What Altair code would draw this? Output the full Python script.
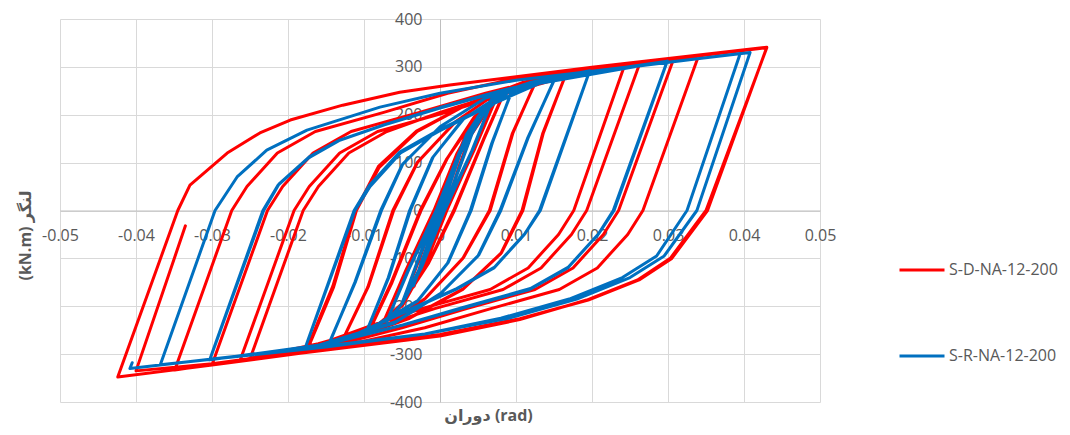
import altair as alt
import pandas as pd

# ---- data (rotation in rad, moment in kN.m) ----
D_rot = [
    0.0, 0.0015, 0.0035, 0.0012, -0.0005, -0.0035, -0.0012, 0.0005, 0.0035,
    0.0013, -0.0004, -0.0034, -0.0011, 0.0006, 0.0036,
    0.005, 0.0025, 0.0006, -0.0025, -0.005, -0.0025, -0.0006, 0.0025, 0.005,
    0.0025, 0.0007, -0.0024, -0.005, -0.0024, -0.0005, 0.0026, 0.0076,
    0.0046, 0.0008, -0.002, -0.0048, -0.0075, -0.0045, -0.0008, 0.0022, 0.005, 0.0076,
    0.0046, 0.0009, -0.0019, -0.0047, -0.0075, -0.0044, -0.0007, 0.0023, 0.0052, 0.0086,
    0.0058, 0.0019, -0.0015, -0.005, -0.0095, -0.0063, -0.0025, 0.001, 0.0045, 0.0086,
    0.0058, 0.0018, -0.0016, -0.0051, -0.0096, -0.0064, -0.0026, 0.0009, 0.0046, 0.0085, 0.0128,
    0.0095, 0.0065, 0.003, -0.002, -0.007, -0.0128, -0.0095, -0.0062, -0.003, 0.002, 0.007, 0.0128,
    0.0096, 0.0066, 0.0031, -0.0019, -0.0069, -0.0128, -0.0094, -0.0061, -0.0029, 0.0021, 0.0071, 0.0125, 0.0167,
    0.0135, 0.0108, 0.008, 0.003, -0.004, -0.011, -0.0175, -0.014, -0.011, -0.008, -0.003, 0.004, 0.011, 0.0167,
    0.0136, 0.0109, 0.0081, 0.0031, -0.0039, -0.0109, -0.0176, -0.0141, -0.0111, -0.0081, -0.0031, 0.0041, 0.0111, 0.0175, 0.0243,
    0.0176, 0.0156, 0.0116, 0.0066, -0.0024, -0.009, -0.016, -0.025,
    -0.018, -0.016, -0.012, -0.007, 0.0, 0.008, 0.017, 0.0263,
    0.0193, 0.0173, 0.0133, 0.0083, -0.0007, -0.008, -0.016, -0.0263,
    -0.0192, -0.0172, -0.0132, -0.0082, 0.0008, 0.009, 0.018, 0.0307,
    0.0235, 0.0215, 0.0175, 0.0125, 0.0035, -0.005, -0.015, -0.030,
    -0.0227, -0.0207, -0.0167, -0.0117, -0.0027, 0.006, 0.016, 0.034,
    0.0267, 0.0247, 0.0207, 0.0157, 0.0067, -0.002, -0.012, -0.0349,
    -0.0274, -0.0254, -0.0214, -0.0164, -0.0074, 0.001, 0.01, 0.043,
    0.035, 0.0303, 0.026, 0.0193, 0.0105, 0.0, -0.0184, -0.03, -0.0424,
    -0.0345, -0.0329, -0.028, -0.0237, -0.0197, -0.0128, -0.0053, 0.0013, 0.02, 0.043,
    0.0352, 0.0305, 0.0262, 0.0195, 0.0105, 0.0, -0.0184, -0.03, -0.040, -0.0335,
]
D_mom = [
    0, 85, 162, 55, -30, -160, -55, 30, 162,
    56, -28, -158, -53, 32, 164,
    200, 90, 0, -120, -200, -90, 0, 120, 202,
    92, 0, -118, -198, -88, 0, 122, 242,
    130, 0, -115, -195, -236, -125, 0, 118, 198, 243,
    132, 0, -112, -192, -235, -122, 0, 120, 200, 252,
    150, 0, -110, -195, -258, -150, 0, 110, 195, 253,
    152, 0, -112, -196, -258, -150, 0, 108, 193, 245, 276,
    160, 0, -100, -185, -240, -270, -160, 0, 100, 185, 240, 277,
    162, 0, -98, -183, -238, -270, -158, 0, 102, 186, 241, 273, 290,
    160, 0, -90, -165, -225, -265, -292, -160, 0, 90, 165, 225, 268, 291,
    162, 0, -88, -163, -223, -264, -292, -158, 0, 92, 166, 226, 268, 292, 304,
    0, -50, -120, -165, -205, -240, -280, -310,
    0, 50, 120, 165, 205, 245, 282, 308,
    0, -50, -120, -165, -205, -242, -278, -313,
    0, 50, 120, 165, 205, 246, 286, 315,
    0, -50, -120, -165, -205, -245, -286, -322,
    0, 50, 120, 165, 205, 245, 285, 322,
    0, -50, -120, -165, -205, -245, -280, -333,
    0, 50, 120, 165, 205, 245, 276, 340,
    0, -100, -145, -187, -228, -262, -298, -323, -348,
    0, 53, 120, 162, 189, 220, 247, 262, 299, 341,
    0, -100, -145, -187, -226, -259, -295, -320, -335, -32,
]

R_rot = [
    0.0, 0.0015, 0.0035, 0.0013, -0.0004, -0.0035, -0.0013, 0.0004, 0.0035,
    0.0013, -0.0004, -0.0035, -0.0012, 0.0004, 0.0035, 0.005,
    0.0026, 0.0004, -0.0025, -0.005, -0.0026, -0.0004, 0.0025, 0.005,
    0.0026, 0.0005, -0.0024, -0.005, -0.0025, -0.0003, 0.0026, 0.007,
    0.0042, 0.0005, -0.0025, -0.005, -0.007, -0.0042, -0.0005, 0.0025, 0.005, 0.007,
    0.0043, 0.0006, -0.0024, -0.0049, -0.007, -0.0041, -0.0004, 0.0026, 0.0051, 0.0096,
    0.0068, 0.004, 0.001, -0.003, -0.0096, -0.0068, -0.004, -0.001, 0.003, 0.0096,
    0.0069, 0.0041, 0.0011, -0.0029, -0.0096, -0.0067, -0.0039, -0.0009, 0.0031, 0.008, 0.0152,
    0.0115, 0.0079, 0.005, 0.0, -0.006, -0.0145, -0.0112, -0.0078, -0.005, 0.0, 0.006, 0.0152,
    0.0116, 0.008, 0.0051, 0.0001, -0.0059, -0.0145, -0.0111, -0.0077, -0.0049, 0.0001, 0.0061, 0.012, 0.0197,
    0.0131, 0.0111, 0.0071, 0.0021, -0.005, -0.011, -0.0178,
    -0.0112, -0.0092, -0.0052, -0.0002, 0.006, 0.012, 0.0197,
    0.0132, 0.0112, 0.0072, 0.0022, -0.0049, -0.0109, -0.0178,
    -0.0113, -0.0093, -0.0053, -0.0003, 0.006, 0.013, 0.0299,
    0.0228, 0.0208, 0.0168, 0.0118, 0.0028, -0.005, -0.015, -0.0303,
    -0.0232, -0.0212, -0.0172, -0.0132, -0.0072, 0.0, 0.008, 0.016, 0.0299,
    0.0229, 0.0209, 0.0169, 0.0119, 0.0029, -0.0049, -0.0149, -0.0303,
    -0.0233, -0.0213, -0.0173, -0.0133, -0.0073, 0.0, 0.008, 0.02, 0.0395,
    0.0325, 0.0285, 0.024, 0.017, 0.008, -0.002, -0.015, -0.0368,
    -0.0296, -0.0267, -0.0228, -0.0175, -0.0079, 0.0, 0.01, 0.0408,
    0.0338, 0.0295, 0.025, 0.018, 0.009, -0.002, -0.015, -0.03, -0.0408, -0.0405,
]
R_mom = [
    0, 80, 158, 55, -25, -157, -55, 25, 158,
    56, -24, -156, -54, 26, 159, 195,
    90, 0, -115, -195, -90, 0, 115, 196,
    92, 0, -113, -194, -88, 0, 117, 236,
    125, 0, -120, -195, -232, -125, 0, 120, 196, 236,
    127, 0, -118, -193, -231, -123, 0, 122, 198, 255,
    140, 0, -110, -190, -250, -140, 0, 110, 190, 256,
    142, 0, -108, -188, -250, -138, 0, 112, 191, 242, 278,
    150, 0, -95, -175, -235, -275, -150, 0, 95, 175, 235, 279,
    152, 0, -93, -173, -233, -274, -148, 0, 97, 176, 236, 268, 292,
    0, -50, -120, -165, -215, -258, -290,
    0, 50, 120, 165, 215, 262, 292,
    0, -48, -118, -163, -213, -257, -290,
    0, 52, 122, 167, 216, 265, 312,
    0, -50, -120, -165, -205, -240, -280, -312,
    0, 55, 112, 147, 180, 215, 250, 280, 312,
    0, -48, -118, -163, -203, -239, -279, -312,
    0, 53, 110, 146, 179, 214, 249, 290, 328,
    0, -95, -140, -185, -225, -258, -285, -322,
    0, 70, 126, 168, 216, 245, 272, 330,
    0, -95, -140, -185, -225, -258, -283, -310, -330, -318,
]

SERIES = ["S-D-NA-12-200", "S-R-NA-12-200"]
COLORS = ["#FF0000", "#0070C0"]
X_TICKS = [-0.05, -0.04, -0.03, -0.02, -0.01, 0.0, 0.01, 0.02, 0.03, 0.04, 0.05]
Y_TICKS = [-400, -300, -200, -100, 0, 100, 200, 300, 400]
X_TITLE = "دوران (rad)"
Y_TITLE = "(kN.m) لنگر"

rows = []
for name, xs, ys in [(SERIES[0], D_rot, D_mom), (SERIES[1], R_rot, R_mom)]:
    for i, (x, y) in enumerate(zip(xs, ys)):
        rows.append({"series": name, "rot": x, "mom": y, "i": i})
df = pd.DataFrame(rows)

FONT = "Open Sans, DejaVu Sans, sans-serif"
GRAY = "#595959"

W, H = 760, 383

x_axis = alt.Axis(
    values=X_TICKS, offset=-191.5, ticks=False, labelPadding=17,
    labelExpr="datum.value < 0 ? '-' + format(-datum.value, '.2~f') : format(datum.value, '.2~f')",
    title=X_TITLE, titleX=428, titleY=205, titleAlign="center", titleBaseline="middle",
)
y_axis = alt.Axis(
    values=Y_TICKS, offset=-380, ticks=False, labelPadding=18,
    labelExpr="datum.value < 0 ? '-' + format(-datum.value, 'd') : format(datum.value, 'd')",
    title=Y_TITLE, titleX=-415, titleY=216, titleAngle=270, titleAlign="center", titleBaseline="middle",
)

chart = alt.Chart(df).mark_line(strokeWidth=3, strokeJoin="round", strokeCap="round").encode(
    x=alt.X("rot:Q", scale=alt.Scale(domain=[-0.05, 0.05], nice=False, zero=False), axis=x_axis),
    y=alt.Y("mom:Q", scale=alt.Scale(domain=[-400, 400], nice=False, zero=False), axis=y_axis),
    color=alt.Color(
        "series:N",
        scale=alt.Scale(domain=SERIES, range=COLORS),
        legend=alt.Legend(
            title=None, orient="none", legendX=838, legendY=227, direction="vertical",
            symbolType="stroke", symbolSize=2025, symbolStrokeWidth=3,
            labelFontSize=16, labelColor=GRAY, labelFont=FONT, rowPadding=54, labelOffset=3,
        ),
    ),
    order=alt.Order("i:Q"),
    detail="series:N",
).properties(
    width=W, height=H,
    autosize=alt.AutoSizeParams(type="none"),
    padding={"left": 52, "top": 11, "right": 242, "bottom": 25},
    background="white",
).configure_view(stroke=None).configure_axis(
    gridColor="#D9D9D9", gridWidth=1, domainColor="#BFBFBF", domainWidth=1,
    labelFont=FONT, labelFontSize=16, labelColor=GRAY,
    labelFlush=False, labelOverlap=False, labelBound=False,
    titleFont=FONT, titleFontSize=16, titleColor=GRAY, titleFontWeight="bold",
)

chart.save("out.html", embed_options={"renderer": "svg", "actions": False})
